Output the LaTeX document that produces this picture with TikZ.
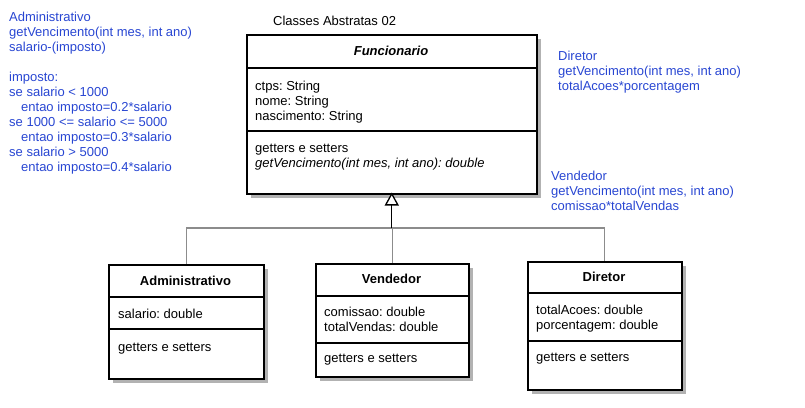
\documentclass[tikz,border=0pt]{standalone}
\usepackage{fontspec}
\setmainfont{Liberation Sans}
\usetikzlibrary{arrows.meta,shadows}
\definecolor{azulnota}{RGB}{40,70,210}
\frenchspacing
\tikzset{
  classe/.style={draw, line width=1.5pt, fill=white, anchor=north west, inner sep=0pt,
    drop shadow={shadow xshift=4pt, shadow yshift=-4pt, fill=black!30, opacity=1}},
  divisao/.style={line width=1.5pt},
  nomeclasse/.style={anchor=base, inner sep=0pt, font=\fontsize{13}{15}\selectfont\bfseries},
  membro/.style={anchor=base west, inner sep=0pt, font=\fontsize{13}{15}\selectfont},
  nota/.style={anchor=north west, align=left, inner sep=0pt, text=azulnota,
    font=\fontsize{13}{15}\selectfont},
  heranca/.style={draw=black!45, line width=1.3pt},
}

\begin{document}
\begin{tikzpicture}[x=1pt, y=-1pt]
\useasboundingbox (0,0) rectangle (805,407);

\node[anchor=base west, inner sep=0pt, font=\fontsize{13}{15}\selectfont] (titulo) at (273,25.5) {Classes Abstratas 02};

% classe abstrata
\begin{scope}[shift={(246,34)}]
\node[classe, minimum width=290pt, minimum height=159pt] (func) at (0,0) {};
\draw[divisao] (0,34) -- (290,34);
\draw[divisao] (0,97) -- (290,97);
\node[nomeclasse, font=\fontsize{13}{15}\selectfont\bfseries\itshape] (fNome) at (145,21.5) {Funcionario};
\node[membro] (fA1) at (9,56) {ctps: String};
\node[membro] (fA2) at (9,71) {nome: String};
\node[membro] (fA3) at (9,86) {nascimento: String};
\node[membro] (fM1) at (9,118) {getters e setters};
\node[membro, font=\fontsize{13}{15}\selectfont\itshape] (fM2) at (9,133) {getVencimento(int mes, int ano): double};
\end{scope}

% subclasses
\begin{scope}[shift={(108,264)}]
\node[classe, minimum width=155pt, minimum height=114pt] (adm) at (0,0) {};
\draw[divisao] (0,33) -- (155,33);
\draw[divisao] (0,65) -- (155,65);
\node[nomeclasse] (aNome) at (77.5,21.5) {Administrativo};
\node[membro] (aA1) at (10,54.5) {salario: double};
\node[membro] (aM1) at (10,87.5) {getters e setters};
\end{scope}

\begin{scope}[shift={(315,263)}]
\node[classe, minimum width=153pt, minimum height=113pt] (vend) at (0,0) {};
\draw[divisao] (0,33) -- (153,33);
\draw[divisao] (0,80) -- (153,80);
\node[nomeclasse] (vNome) at (76.5,20.5) {Vendedor};
\node[membro] (vA1) at (9,53.5) {comissao: double};
\node[membro] (vA2) at (9,68.5) {totalVendas: double};
\node[membro] (vM1) at (9,99.5) {getters e setters};
\end{scope}

\begin{scope}[shift={(527,261)}]
\node[classe, minimum width=154pt, minimum height=128pt] (dir) at (0,0) {};
\draw[divisao] (0,32) -- (154,32);
\draw[divisao] (0,80) -- (154,80);
\node[nomeclasse] (dNome) at (77,20.5) {Diretor};
\node[membro] (dA1) at (9,53.5) {totalAcoes: double};
\node[membro] (dA2) at (9,68.5) {porcentagem: double};
\node[membro] (dM1) at (9,100.5) {getters e setters};
\end{scope}

% generalizacao
\coordinate (juncao) at (func.south |- 0,228);
\draw[heranca] (adm.north) |- (juncao) -| (dir.north);
\draw[heranca] (vend.north) |- (juncao);
\draw[line width=1.3pt, shorten >=-2pt, -{Triangle[open, length=13pt, width=14pt, line width=1.3pt, fill=white]}] (juncao) -- (func.south);

% notas
\node[nota] (notaAdm) at (9,11.5) {Administrativo\\getVencimento(int mes, int ano)\\salario-(imposto)\\[15pt]
imposto:\\se salario < 1000\\\hspace*{12pt}entao imposto=0.2*salario\\se 1000 <= salario <= 5000\\
\hspace*{12pt}entao imposto=0.3*salario\\se salario > 5000\\\hspace*{12pt}entao imposto=0.4*salario};
\node[nota] (notaDir) at (558,50.5) {Diretor\\getVencimento(int mes, int ano)\\totalAcoes*porcentagem};
\node[nota] (notaVend) at (551,170.5) {Vendedor\\getVencimento(int mes, int ano)\\comissao*totalVendas};
\end{tikzpicture}
\end{document}
